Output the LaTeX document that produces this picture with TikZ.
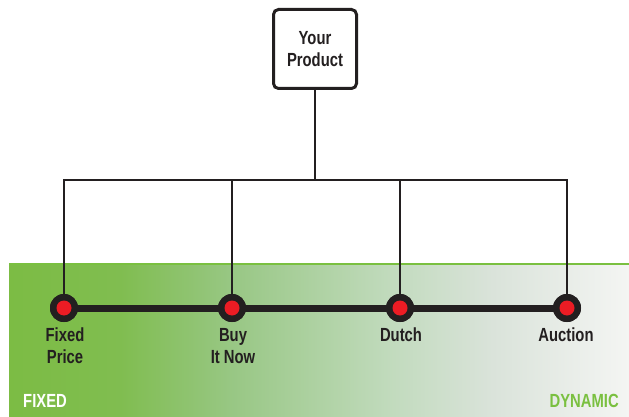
\documentclass[tikz,border=0pt]{standalone}
\usepackage{fontspec}
\setmainfont{Liberation Sans}[FakeStretch=0.78]
\definecolor{bandA}{RGB}{124,188,68}
\definecolor{bandB}{RGB}{128,189,80}
\definecolor{bandC}{RGB}{152,199,132}
\definecolor{bandD}{RGB}{194,219,190}
\definecolor{bandE}{RGB}{218,227,218}
\definecolor{bandF}{RGB}{244,245,243}
\definecolor{edgegreen}{RGB}{122,192,64}
\definecolor{dotred}{RGB}{236,28,36}
\definecolor{ink}{RGB}{35,31,32}
% stops live in 25bp..75bp, which TikZ maps onto the path's width
\pgfdeclarehorizontalshading{pricingband}{100bp}{%
  color(0bp)=(bandA); color(25bp)=(bandA); color(34bp)=(bandB);
  color(43bp)=(bandC); color(56bp)=(bandD); color(64bp)=(bandE);
  color(75bp)=(bandF); color(100bp)=(bandF)}
\tikzset{
  lbl/.style={font=\bfseries\fontsize{19}{22}\selectfont, text=ink, align=center, inner sep=0pt},
  connector/.style={draw=ink, line width=2pt},
  stop/.style={circle, fill=ink, minimum size=28pt, inner sep=0pt},
  stopcore/.style={circle, fill=dotred, minimum size=15pt, inner sep=0pt},
}
\begin{document}
\begin{tikzpicture}[x=1pt,y=-1pt]
\useasboundingbox (0,0) rectangle (629,417);
% gradient band from fixed to dynamic pricing
\shade[shading=pricingband] (9,264) rectangle (629,417);
\draw[edgegreen, line width=1.5pt] (9,264) -- (629,264);
% product box
\node[draw=ink, line width=3pt, rounded corners=5pt, minimum width=83pt, minimum height=79pt,
      lbl, align=center] (prod) at (315,49) {Your\\Product};
% tree of connectors
\coordinate (hub) at (315,180);
\coordinate (hl) at (64,180);
\coordinate (hr) at (567,180);
\node[stop] (s1) at (64,308) {};
\node[stop] (s2) at (232,308) {};
\node[stop] (s3) at (400,308) {};
\node[stop] (s4) at (567,308) {};
\draw[connector] (prod.south) -- (hub);
\draw[connector, line cap=rect] (hl) -- (hr);
\draw[connector] (hl) -- (s1.center);
\draw[connector] (s2.center |- hub) -- (s2.center);
\draw[connector] (s3.center |- hub) -- (s3.center);
\draw[connector] (hr) -- (s4.center);
% spectrum line
\draw[ink, line width=7pt] (s1.center) -- (s4.center);
\foreach \s in {s1,s2,s3,s4} {
  \node[stop] at (\s) {};
  \node[stopcore] at (\s) {};
}
% labels
\node[lbl, anchor=north] (l1) at (65,328) {Fixed\\Price};
\node[lbl, anchor=north] (l2) at (233,328) {Buy\\It Now};
\node[lbl, anchor=north] (l3) at (401,328) {Dutch};
\node[lbl, anchor=north] (l4) at (566,328) {Auction};
\node[lbl, text=white, anchor=west] (fixed) at (23,401) {FIXED};
\node[lbl, text=edgegreen, anchor=east] (dyn) at (619,401) {DYNAMIC};
\end{tikzpicture}
\end{document}
